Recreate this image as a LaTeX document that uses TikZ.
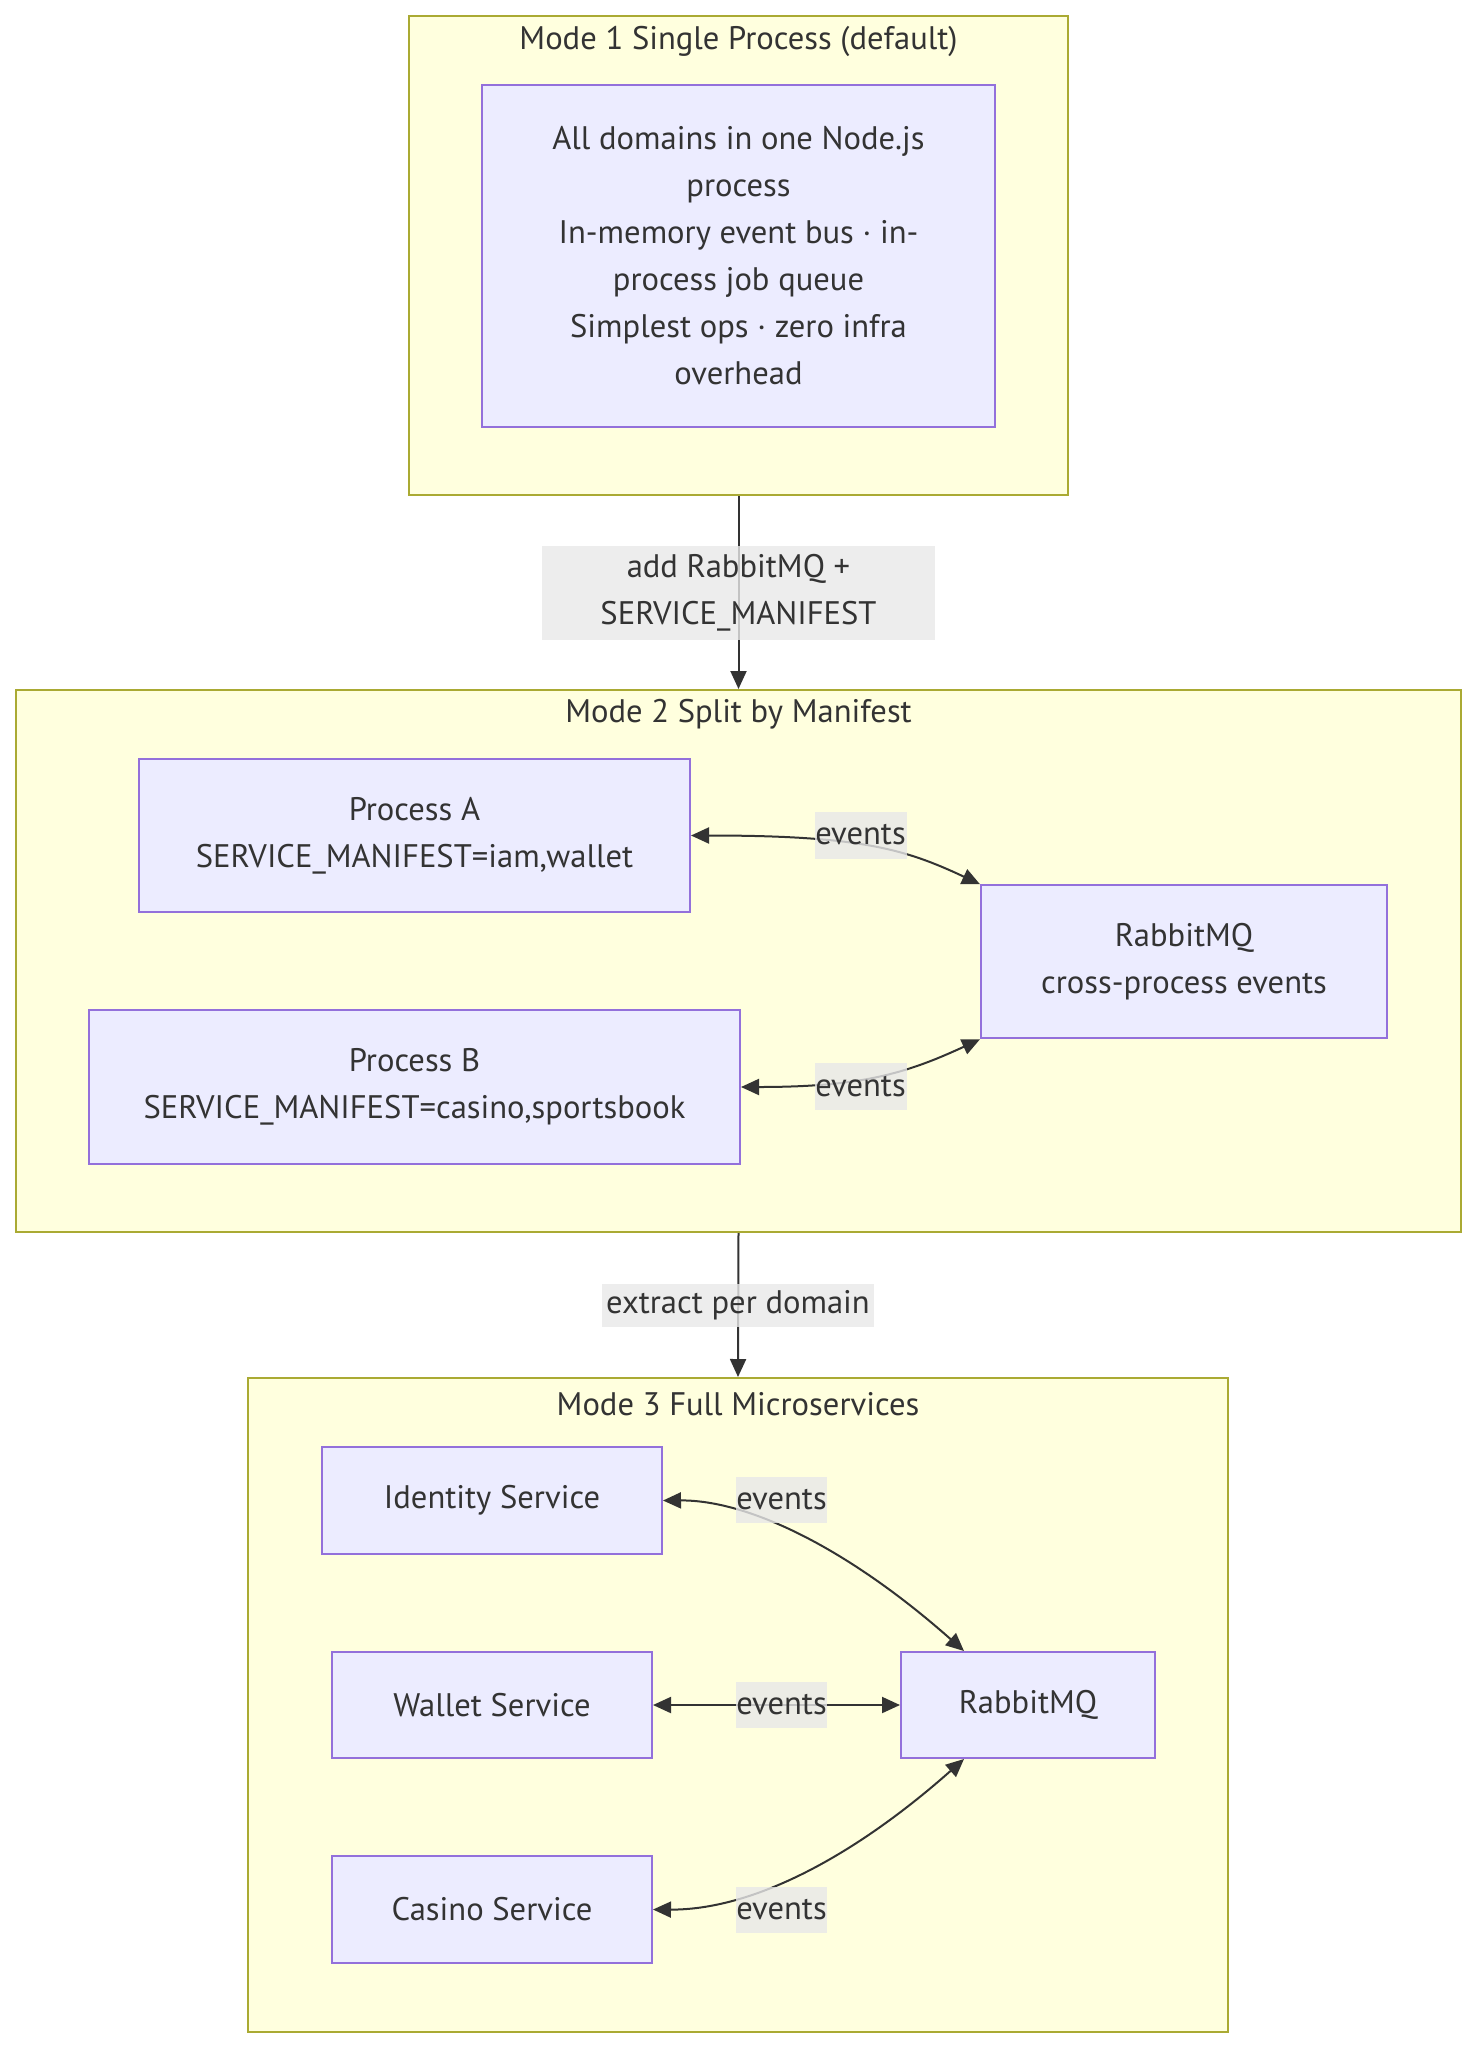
\documentclass[tikz,border=0pt]{standalone}
\usepackage{fontspec}
\setmainfont{PT Sans}
\usetikzlibrary{arrows.meta,calc,positioning}
\definecolor{ClusterFill}{HTML}{FFFFDE}
\definecolor{ClusterLine}{HTML}{AAAA33}
\definecolor{NodeFill}{HTML}{ECECFF}
\definecolor{NodeLine}{HTML}{9370DB}
\definecolor{LabelFill}{HTML}{E8E8E8}
\definecolor{InkGray}{HTML}{333333}

\begin{document}
\begin{tikzpicture}[x=1pt,y=-1pt,
  font=\fontsize{32.6}{47}\selectfont, text=InkGray,
  cluster/.style={draw=ClusterLine,fill=ClusterFill,line width=2pt,inner sep=0pt},
  svc/.style={draw=NodeLine,fill=NodeFill,line width=2pt,align=center,inner sep=0pt},
  tag/.style={fill=LabelFill,fill opacity=0.8,text opacity=1,inner sep=0pt,align=center},
  flow/.style={draw=InkGray,line width=2pt,-{Triangle[length=18pt,width=16pt]}},
  both/.style={draw=InkGray,line width=2pt,{Triangle[length=18pt,width=16pt]}-{Triangle[length=18pt,width=16pt]}}]
  \useasboundingbox (0,0) rectangle (1477,2048);

  \node[cluster,minimum width=659,minimum height=479] (m1) at (738.5,255.5) {};
  \node (m1title) at (738.5,41) {Mode 1 Single Process (default)};
  \node[svc,minimum width=513,minimum height=342] (mono) at (738.5,256)
    {All domains in one Node.js\\process\\In-memory event bus · in-\\process job queue\\Simplest ops · zero infra\\overhead};

  \node[cluster,minimum width=1445,minimum height=542] (m2) at (738.5,961) {};
  \node (m2title) at (738.5,714) {Mode 2 Split by Manifest};
  \node[svc,minimum width=551,minimum height=153] (pa) at (414.5,835.5)
    {Process A\\SERVICE\_MANIFEST=iam,wallet};
  \node[svc,minimum width=651,minimum height=154] (pb) at (414.5,1087)
    {Process B\\SERVICE\_MANIFEST=casino,sportsbook};
  \node[svc,minimum width=406,minimum height=153] (rmqa) at (1184,961.75)
    {RabbitMQ\\cross-process events};

  \node[cluster,minimum width=980,minimum height=654] (m3) at (738,1705) {};
  \node (m3title) at (738,1404) {Mode 3 Full Microservices};
  \node[svc,minimum width=340,minimum height=107] (ids) at (492,1500.5) {Identity Service};
  \node[svc,minimum width=320,minimum height=106] (wal) at (492,1705) {Wallet Service};
  \node[svc,minimum width=320,minimum height=107] (cas) at (492,1909.5) {Casino Service};
  \node[svc,minimum width=254,minimum height=106] (rmqb) at (1028,1705) {RabbitMQ};

  \draw[flow] (m1.south) -- (m2.north);
  \draw[flow] (m2.south) -- (m3.north);
  \draw[both] (pa.east) .. controls (860,835.5) and (905,849) .. (rmqa.north west);
  \draw[both] (pb.east) .. controls (860,1087) and (905,1074) .. (rmqa.south west);
  \draw[both] (ids.east) .. controls (750,1500) and (850,1550) .. ($(rmqb.north west)!0.25!(rmqb.north east)$);
  \draw[both] (wal.east) -- (rmqb.west);
  \draw[both] (cas.east) .. controls (750,1910) and (850,1860) .. ($(rmqb.south west)!0.25!(rmqb.south east)$);

  \node[tag,minimum width=393,minimum height=94] (up1) at (738.5,593) {add RabbitMQ +\\SERVICE\_MANIFEST};
  \node[tag,minimum width=272,minimum height=43] (up2) at (738,1305.5) {extract per domain};
  \node[tag,minimum width=92,minimum height=47] (ev1) at (860.5,835) {events};
  \node[tag,minimum width=92,minimum height=47] (ev2) at (860.5,1086.5) {events};
  \node[tag,minimum width=91,minimum height=46] (ev3) at (781.5,1500) {events};
  \node[tag,minimum width=91,minimum height=46] (ev4) at (781.5,1705) {events};
  \node[tag,minimum width=91,minimum height=46] (ev5) at (781.5,1910) {events};
\end{tikzpicture}
\end{document}
